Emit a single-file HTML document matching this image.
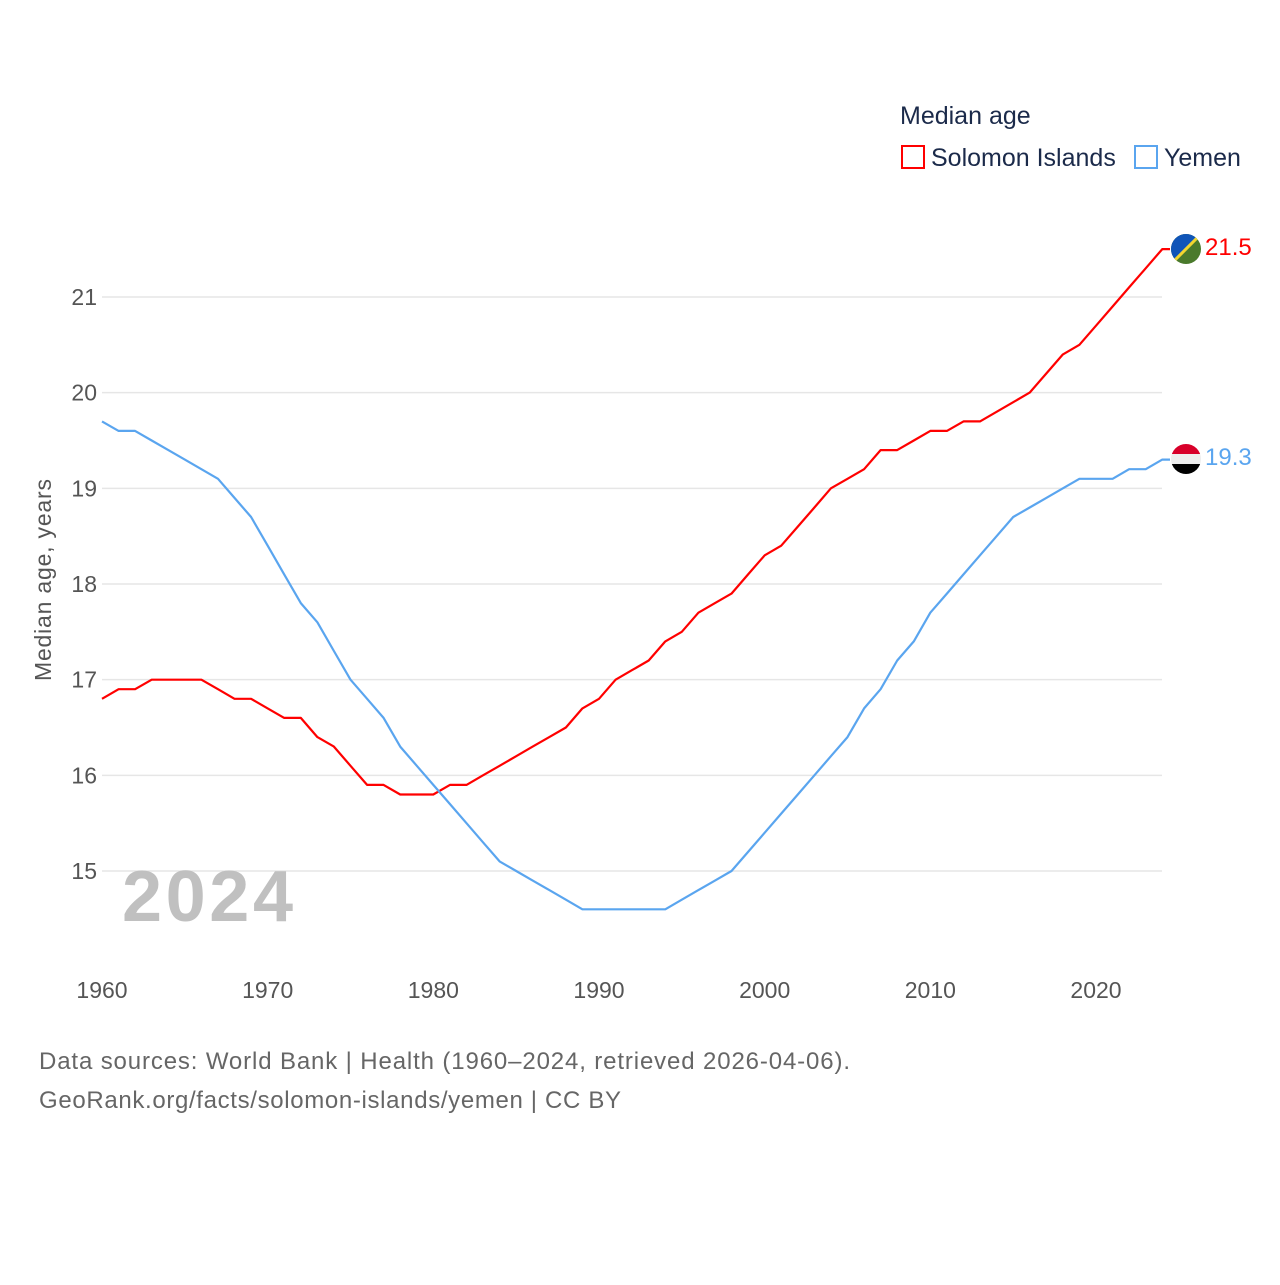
<!DOCTYPE html>
<html><head><meta charset="utf-8"><style>
body{margin:0;background:#fff;font-family:"Liberation Sans",sans-serif}
</style></head><body>
<svg id="chart" width="1280" height="1280" xmlns="http://www.w3.org/2000/svg" font-family="Liberation Sans, sans-serif">
<defs>
<clipPath id="c1"><circle cx="1186" cy="249" r="15"/></clipPath>
<clipPath id="c2"><circle cx="1186" cy="459" r="15"/></clipPath>
</defs>
<text x="900" y="124" font-size="25" fill="#1b2a4a">Median age</text>
<g>
<rect x="902" y="146" width="22" height="22" fill="none" stroke="#ff0000" stroke-width="2"/>
<text x="931" y="166" font-size="25" fill="#1b2a4a">Solomon Islands</text></g>
<g>
<rect x="1135" y="146" width="22" height="22" fill="none" stroke="#5aa5ef" stroke-width="2"/>
<text x="1164" y="166" font-size="25" fill="#1b2a4a">Yemen</text></g>
<g id="grid"></g><g id="yt"></g><g id="xt"></g>
<text transform="translate(51,580) rotate(-90)" text-anchor="middle" font-size="23" fill="#555" textLength="202">Median age, years</text>
<text x="122" y="921" font-size="72" font-weight="bold" fill="#c0c0c0" textLength="171">2024</text>
<g id="lines"></g>
<g clip-path="url(#c1)">
<rect x="1170" y="233" width="32" height="32" fill="#4a7a2c"/>
<polygon points="1170,233 1202,233 1170,265" fill="#1055b8"/>
<line x1="1202" y1="233" x2="1170" y2="265" stroke="#f2d630" stroke-width="3"/></g>
<g clip-path="url(#c2)">
<rect x="1170" y="443" width="32" height="11" fill="#d8002a"/>
<rect x="1170" y="454" width="32" height="10" fill="#eee"/>
<rect x="1170" y="464" width="32" height="12" fill="#000"/></g>
<text x="1205" y="255" font-size="24" fill="#ff0000">21.5</text>
<text x="1205" y="465" font-size="24" fill="#5aa5ef">19.3</text>
<text x="39" y="1069" font-size="24" fill="#666" textLength="811">Data sources: World Bank | Health (1960–2024, retrieved 2026-04-06).</text>
<text x="39" y="1108" font-size="24" fill="#666" textLength="582">GeoRank.org/facts/solomon-islands/yemen | CC BY</text>
</svg>
<script>
const years=[];for(let y=1960;y<=2024;y++)years.push(y);
const solomon=[16.8,16.9,16.9,17.0,17.0,17.0,17.0,16.9,16.8,16.8,16.7,16.6,16.6,16.4,16.3,16.1,15.9,15.9,15.8,15.8,15.8,15.9,15.9,16.0,16.1,16.2,16.3,16.4,16.5,16.7,16.8,17.0,17.1,17.2,17.4,17.5,17.7,17.8,17.9,18.1,18.3,18.4,18.6,18.8,19.0,19.1,19.2,19.4,19.4,19.5,19.6,19.6,19.7,19.7,19.8,19.9,20.0,20.2,20.4,20.5,20.7,20.9,21.1,21.3,21.5];
const yemen=[19.7,19.6,19.6,19.5,19.4,19.3,19.2,19.1,18.9,18.7,18.4,18.1,17.8,17.6,17.3,17.0,16.8,16.6,16.3,16.1,15.9,15.7,15.5,15.3,15.1,15.0,14.9,14.8,14.7,14.6,14.6,14.6,14.6,14.6,14.6,14.7,14.8,14.9,15.0,15.2,15.4,15.6,15.8,16.0,16.2,16.4,16.7,16.9,17.2,17.4,17.7,17.9,18.1,18.3,18.5,18.7,18.8,18.9,19.0,19.1,19.1,19.1,19.2,19.2,19.3];
const yTicks=[15,16,17,18,19,20,21];
const xTicks=[1960,1970,1980,1990,2000,2010,2020];
const X=y=>102+(y-1960)*(994/60);
const Y=v=>871-(v-15)*95.67;
const NS="http://www.w3.org/2000/svg";
function mk(tag,attrs,parent,txt){const e=document.createElementNS(NS,tag);for(const k in attrs)e.setAttribute(k,attrs[k]);if(txt!==undefined)e.textContent=txt;document.getElementById(parent).appendChild(e);return e;}
yTicks.forEach(v=>{
const g=mk('line',{x1:102,x2:1162,y1:Y(v),y2:Y(v),stroke:'#e6e6e6','stroke-width':1.5},'grid');


const t=mk('text',{x:97,y:Y(v)+8,'text-anchor':'end','font-size':23,fill:'#555'},'yt',v);


});
xTicks.forEach(v=>{
const t=mk('text',{x:X(v),y:998,'text-anchor':'middle','font-size':23,fill:'#555'},'xt',v);


});
function line(data,color,name){
const pts=data.map((v,i)=>X(years[i]).toFixed(1)+','+Y(v).toFixed(1));
pts.push('1170,'+Y(data[data.length-1]).toFixed(1));
const p=mk('polyline',{points:pts.join(' '),fill:'none',stroke:color,'stroke-width':2.2,'stroke-linejoin':'round'},'lines');


}
line(solomon,'#ff0000','solomon-islands-line');
line(yemen,'#5aa5ef','yemen-line');
</script>
</body></html>
